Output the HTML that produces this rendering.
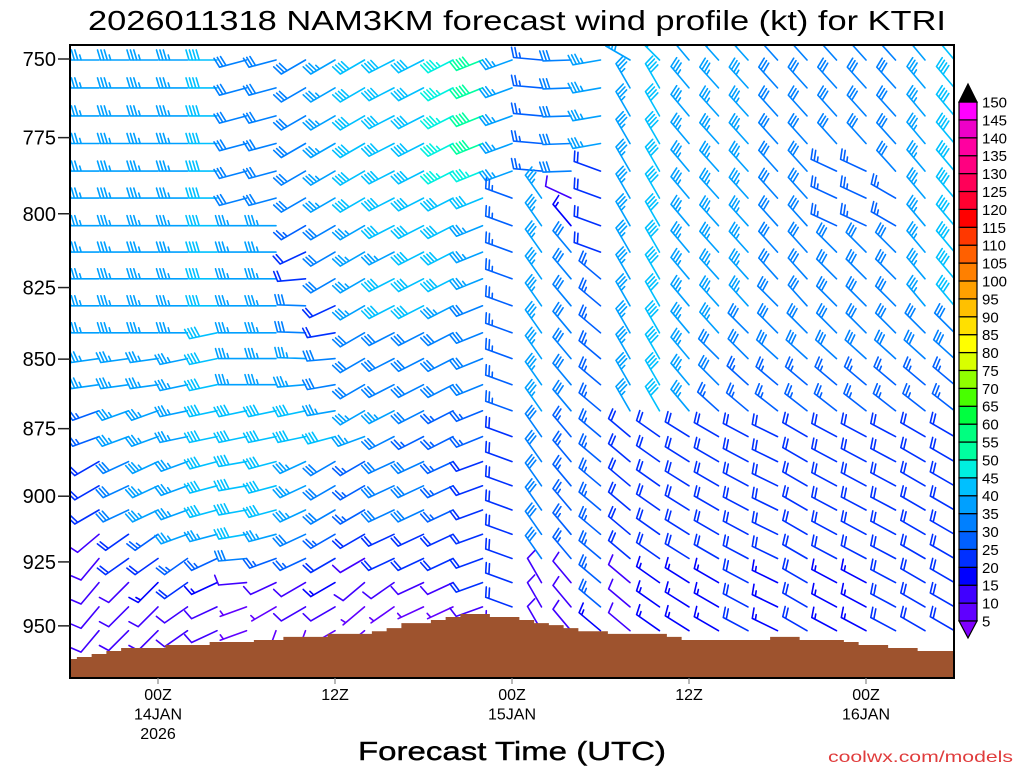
<!DOCTYPE html>
<html><head><meta charset="utf-8"><style>
html,body{margin:0;padding:0;background:#fff;}
svg{display:block;font-family:"Liberation Sans","DejaVu Sans",sans-serif;}
</style></head><body>
<svg id="chart" width="1024" height="768" viewBox="0 0 1024 768" xmlns="http://www.w3.org/2000/svg">
<defs><clipPath id="plotclip"><rect x="70" y="45" width="884" height="633"/></clipPath></defs>
<text x="88" y="30" font-size="28" textLength="858" lengthAdjust="spacingAndGlyphs" fill="#000">2026011318 NAM3KM forecast wind profile (kt) for KTRI</text>
<g id="barbs" clip-path="url(#plotclip)"></g>
<g id="terrain" clip-path="url(#plotclip)"></g>
<rect x="70" y="45" width="884" height="633" fill="none" stroke="#000" stroke-width="2"/>
<g id="yaxis"></g>
<g id="xaxis"></g>
<g id="colorbar"></g>
<text x="358" y="760" font-size="26" textLength="308" lengthAdjust="spacingAndGlyphs" fill="#000" stroke="#000" stroke-width="0.4">Forecast Time (UTC)</text>
<text x="828" y="762" font-size="16" textLength="185" lengthAdjust="spacingAndGlyphs" fill="#e03c3c">coolwx.com/models</text>
</svg>
<script>
const columnHours = [0,2,4,6,8,10,12,14,16,18,20,22,24,26,28,30,32,34,36,38,40,42,44,46,48,50,52,54,56,58,60];
const levels = [750.3,759.1,768.0,776.9,785.9,794.8,804.0,812.9,822.0,831.3,840.7,849.8,859.1,868.5,877.9,887.1,896.1,905.2,914.4,923.7,933.0,942.5,951.9];
const windDir = [
[270,270,270,270,270,270,270,270,270,270,270,262,262,250,250,240,240,240,230,220,220,220,220],
[270,270,270,270,270,270,270,270,270,270,270,262,262,250,250,240,240,240,230,220,220,220,220],
[270,270,270,270,270,270,270,270,270,270,270,262,262,250,250,245,245,245,235,235,225,225,225],
[270,270,270,270,270,270,270,270,270,270,270,262,262,250,250,245,245,245,235,235,225,225,225],
[270,270,270,270,270,270,270,270,270,270,270,258,258,258,258,250,250,250,250,235,235,235,235],
[270,270,270,270,270,270,270,270,270,270,258,258,258,258,258,255,255,255,255,245,245,245,245],
[255,255,255,255,255,255,270,270,270,270,270,270,270,258,258,260,260,260,260,265,265,250,250],
[255,255,255,255,255,255,270,270,270,270,270,270,270,258,258,255,255,255,255,250,245,240,200],
[240,240,240,240,240,240,240,245,265,272,272,272,265,258,258,245,245,245,245,245,240,240,200],
[240,240,240,240,240,240,240,240,240,245,260,265,260,260,255,240,240,240,240,240,240,240,240],
[240,240,240,240,240,240,240,240,240,240,240,240,240,240,250,240,240,240,240,240,230,230,230],
[243,243,243,243,243,243,243,243,243,243,243,243,243,243,243,245,245,245,245,245,235,235,235],
[243,243,243,243,243,243,243,243,243,243,243,243,243,243,243,245,245,245,245,245,245,245,245],
[243,243,243,243,243,243,243,243,243,243,243,243,243,243,243,245,245,245,245,245,245,245,245],
[248,248,248,248,248,248,248,248,248,248,248,248,248,248,248,250,250,250,250,250,250,250,250],
[250,250,250,250,250,290,290,290,290,290,290,290,290,290,290,290,290,290,290,290,290,290,290],
[275,275,275,275,275,325,325,325,325,325,325,325,325,325,325,325,325,325,325,325,330,330,330],
[268,268,268,268,268,295,320,320,320,320,320,320,320,320,320,320,320,320,320,320,320,320,320],
[260,260,260,260,290,290,290,290,310,310,310,310,310,310,310,310,310,310,310,310,310,310,310],
[300,330,330,330,330,330,330,330,330,330,330,330,330,330,310,310,310,310,310,310,310,310,310],
[315,330,330,330,330,330,330,330,330,330,330,330,330,330,305,305,305,305,305,305,305,305,305],
[320,320,320,320,320,320,320,320,320,320,320,320,320,320,302,302,302,302,302,302,302,302,302],
[318,318,318,318,318,318,318,318,318,318,318,315,315,312,300,300,300,300,300,300,300,300,300],
[318,318,318,318,318,318,318,318,318,318,315,315,312,310,298,298,298,298,298,298,298,298,298],
[318,318,318,318,318,318,318,318,318,315,315,312,310,308,296,296,296,296,296,296,296,296,296],
[318,318,318,318,318,318,318,318,318,318,315,312,310,308,300,300,300,300,300,300,300,300,300],
[318,318,318,318,295,295,295,315,315,315,315,312,310,308,298,298,298,298,298,298,298,298,298],
[318,318,318,318,295,295,295,315,315,315,315,312,310,308,298,298,298,298,298,298,298,298,298],
[318,318,318,318,318,300,300,315,315,315,315,312,310,308,298,298,298,298,298,298,298,298,298],
[320,320,320,320,320,320,320,320,320,320,315,312,310,308,300,300,300,300,300,300,300,300,300],
[320,320,320,320,320,320,320,320,320,320,315,312,310,308,300,300,300,300,300,300,300,300,300]
];
const windSpd = [
[35,35,35,35,35,35,35,35,35,35,35,35,35,25,25,20,20,20,10,10,10,10,10],
[35,35,35,35,35,35,35,35,35,35,35,35,35,25,25,20,20,20,10,10,10,10,10],
[35,35,35,35,35,35,35,35,35,35,35,35,35,35,35,30,30,30,20,20,10,10,10],
[35,35,35,35,35,35,35,35,35,35,35,35,35,35,35,35,35,35,25,20,15,10,10],
[35,35,35,35,35,35,35,35,35,35,35,35,35,35,35,35,35,35,35,25,20,10,10],
[40,40,40,40,40,40,40,40,40,40,40,40,40,40,40,40,40,40,35,25,15,10,10],
[30,30,30,30,30,30,35,35,35,35,35,35,35,40,40,40,40,40,40,30,10,5,5],
[30,30,30,30,30,30,35,35,35,35,35,35,35,40,40,40,40,40,35,25,10,5,5],
[30,30,30,30,30,30,25,20,20,30,30,35,35,40,40,35,35,35,30,25,10,10,5],
[35,35,35,35,35,35,30,30,30,20,20,30,30,35,40,30,30,30,25,20,15,10,5],
[40,40,40,40,40,40,35,35,35,35,30,30,30,35,35,25,25,25,20,10,10,5,5],
[40,40,40,40,40,40,40,35,40,40,30,30,30,35,30,30,30,30,20,20,10,5,5],
[40,40,40,40,40,40,40,40,40,40,30,30,30,30,25,30,30,30,20,20,10,5,5],
[45,45,45,45,45,40,40,40,40,35,30,30,30,25,25,25,25,25,20,20,10,5,5],
[50,50,50,50,45,40,35,35,35,30,30,30,30,25,25,20,20,20,20,20,20,10,5],
[35,35,35,35,35,25,25,25,25,25,25,25,25,25,20,20,20,20,20,20,20,20,10],
[25,25,25,25,25,35,35,35,35,35,35,35,35,35,30,30,30,30,30,30,10,10,10],
[30,30,30,30,30,10,15,30,30,30,30,30,30,30,25,25,25,25,25,25,10,10,10],
[35,35,35,35,20,20,20,20,25,25,25,25,25,25,25,25,25,25,25,25,25,25,15],
[35,35,35,35,35,35,35,35,35,35,35,35,35,35,20,20,20,20,20,20,10,10,10],
[40,40,40,40,40,40,40,40,40,40,40,40,40,40,20,20,20,20,20,20,15,15,15],
[35,35,35,35,35,35,35,35,35,35,35,35,35,35,20,20,20,20,20,20,15,15,15],
[35,35,35,35,35,35,35,35,35,35,35,30,30,25,20,20,20,20,20,20,15,15,15],
[35,35,35,35,35,35,35,35,35,35,30,30,25,25,20,20,20,20,20,20,20,20,20],
[30,30,30,30,30,30,30,30,30,30,30,30,25,25,20,20,20,20,20,20,15,15,15],
[30,30,30,30,30,30,30,30,30,30,30,30,25,25,20,20,20,20,20,20,20,20,20],
[30,30,30,30,25,25,25,30,30,30,30,30,25,25,20,20,20,20,20,20,15,15,15],
[30,30,30,30,25,25,25,30,30,30,30,30,25,25,20,20,20,20,20,20,15,15,15],
[30,30,30,30,30,25,25,30,30,30,30,30,25,25,20,20,20,20,20,20,20,20,20],
[35,35,35,35,35,35,35,35,35,35,30,30,25,25,20,20,20,20,20,20,20,20,20],
[40,40,40,40,40,40,40,40,40,40,30,30,25,25,20,20,20,20,20,20,20,20,20]
];
const sfcPres = [963.2,962.4,961.2,960.0,958.8,958.8,958.8,957.6,957.6,957.6,956.4,956.4,956.4,955.6,955.6,954.4,954.4,954.4,953.2,953.2,953.2,952.1,950.9,948.9,948.9,947.7,946.5,945.3,945.3,946.5,946.5,947.7,948.9,949.7,950.9,952.1,952.1,953.2,953.2,953.2,953.2,954.4,955.6,955.6,955.6,955.6,955.6,955.6,954.4,954.4,955.6,955.6,955.6,956.4,957.6,957.6,958.8,958.8,960.0,960.0,960.0];
const yTickLabels = [750,775,800,825,850,875,900,925,950];
const xTickHours = [6,18,30,42,54];
const xTickLine1 = ["00Z","12Z","00Z","12Z","00Z"];
const xTickLine2 = ["14JAN","","15JAN","","16JAN"];
const xTickLine3 = ["2026","","","",""];
const cbLabels = [150,145,140,135,130,125,120,115,110,105,100,95,90,85,80,75,70,65,60,55,50,45,40,35,30,25,20,15,10,5];
const cbColors = ["#6000ff","#4000ff","#0000ff","#0030ff","#0060ff","#0080ff","#00a0ff","#00c0ff","#00f0e0","#00ffa0","#00ff80","#00ff40","#48ff00","#90ff00","#d8ff00","#ffff00","#ffe000","#ffc000","#ffa000","#ff8000","#ff6000","#ff3800","#ff0000","#ff0030","#ff0058","#ff0080","#ff00a0","#ee00c8","#ff00ff"];
const NS = "http://www.w3.org/2000/svg";
function xOf(h){return 69.5 + 14.75*h;}
function yOf(p){return 59 + 2398*Math.log(p/750);}
function mk(tag, attrs, parent){const e=document.createElementNS(NS,tag);for(const k in attrs)e.setAttribute(k,attrs[k]);parent.appendChild(e);return e;}
function colorFor(s){if(s<5)return "#8000ff";const i=Math.floor((s-5)/5);return i>=cbColors.length?"#000":cbColors[i];}

const gB = document.getElementById('barbs');
columnHours.forEach((h,c)=>{
  levels.forEach((p,r)=>{
    const d = windDir[c][r]*Math.PI/180, spd = windSpd[c][r];
    const sx = xOf(h), sy = yOf(p);
    const ux = Math.sin(d), uy = -Math.cos(d);
    const px = -uy, py = ux;
    const L = 28, col = colorFor(spd);
    const tx = sx+ux*L, ty = sy+uy*L;
    let path = `M${sx.toFixed(1)},${sy.toFixed(1)}L${tx.toFixed(1)},${ty.toFixed(1)}`;
    let full = Math.floor(spd/10), half = (spd%10)>=5;
    let k = 0;
    for(let i=0;i<full;i++,k++){
      const bx = tx-ux*k*3.4, by = ty-uy*k*3.4;
      path += `M${bx.toFixed(1)},${by.toFixed(1)}L${(bx+px*10+ux*3).toFixed(1)},${(by+py*10+uy*3).toFixed(1)}`;
    }
    if(half){
      if(full===0) k=1;
      const bx = tx-ux*k*3.4, by = ty-uy*k*3.4;
      path += `M${bx.toFixed(1)},${by.toFixed(1)}L${(bx+px*5+ux*1.5).toFixed(1)},${(by+py*5+uy*1.5).toFixed(1)}`;
    }
    const e = mk('path',{d:path,stroke:col,'stroke-width':'1.6',fill:'none','stroke-linecap':'round'},gB);
    
    
  });
});

const gT = document.getElementById('terrain');
let tp = `M${xOf(-0.5)},678`;
sfcPres.forEach((p,h)=>{const y=yOf(p).toFixed(1);tp+=`L${xOf(h-0.5).toFixed(2)},${y}L${xOf(h+0.5).toFixed(2)},${y}`;});
tp += `L${xOf(sfcPres.length-0.5)},678Z`;
const terr = mk('path',{d:tp,fill:'#9e532e',stroke:'none'},gT);



const gY = document.getElementById('yaxis');
yTickLabels.forEach(v=>{
  const y = yOf(v);
  const t = mk('line',{x1:58,x2:70,y1:y,y2:y,stroke:'#222','stroke-width':'1.5'},gY);
  
  
  const l = mk('text',{x:56,y:y+7,'font-size':'20','text-anchor':'end',fill:'#000'},gY);
  l.textContent = v;
  
  
});

const gX = document.getElementById('xaxis');
xTickHours.forEach((h,i)=>{
  const x = xOf(h);
  const t = mk('line',{x1:x,x2:x,y1:678,y2:684,stroke:'#888','stroke-width':'1.2'},gX);
  
  
  [xTickLine1[i],xTickLine2[i],xTickLine3[i]].forEach((s,j)=>{
    if(!s) return;
    const l = mk('text',{x:x,y:700+j*19.5,'font-size':'16','text-anchor':'middle',fill:'#000'},gX);
    l.textContent = s;
    
    
  });
});

const gC = document.getElementById('colorbar');
const cbTop = 102, cbStep = (621-102)/29, cbX = 959, cbW = 18;
cbColors.forEach((c,i)=>{
  const y = 621 - (i+1)*cbStep;
  const r = mk('rect',{x:cbX,y:y.toFixed(2),width:cbW,height:cbStep.toFixed(2),fill:c,stroke:'#000','stroke-width':'1.2'},gC);
  
  
});
const tri1 = mk('polygon',{points:`${cbX},${cbTop} ${cbX+cbW},${cbTop} ${cbX+cbW/2},84`,fill:'#000',stroke:'#000','stroke-width':'1.2'},gC);


const tri2 = mk('polygon',{points:`${cbX},621 ${cbX+cbW},621 ${cbX+cbW/2},638`,fill:'#8000ff',stroke:'#000','stroke-width':'1.2'},gC);


cbLabels.forEach((v,i)=>{
  const y = cbTop + i*cbStep;
  const l = mk('text',{x:982,y:(y+5.5).toFixed(1),'font-size':'15',fill:'#000'},gC);
  l.textContent = v;
  
  
});
</script>
</body></html>
